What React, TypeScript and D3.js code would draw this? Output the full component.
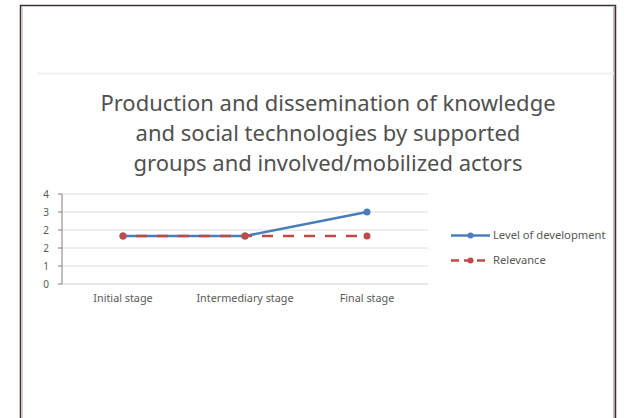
import React from "react";
import * as d3 from "d3";

// Stages along the horizontal axis
const stages = ["Initial stage", "Intermediary stage", "Final stage"];

// Series values per stage
const levelOfDevelopment = [2, 2, 3];
const relevance = [2, 2, 2];

// Value axis: 0 to 3.75 in steps of 0.75, labels rounded to whole numbers
const yMax = 3.75;
const yStep = 0.75;
const yTicks = d3.range(0, yMax + 1e-9, yStep);

const titleLines = [
  "Production and dissemination of knowledge",
  "and social technologies by supported",
  "groups and involved/mobilized actors",
];

const seriesNames = ["Level of development", "Relevance"];
const BLUE = "#4a7ebb";
const RED = "#be4b48";
const FONT = "'Noto Sans', 'Open Sans', sans-serif";

export default function App() {
  const W = 625;
  const H = 418;
  const plot = { left: 62, right: 428, top: 194, bottom: 284 };

  const x = d3
    .scalePoint<string>()
    .domain(stages)
    .range([plot.left, plot.right])
    .padding(0.5);
  const y = d3.scaleLinear().domain([0, yMax]).range([plot.bottom, plot.top]);

  const line = d3
    .line<number>()
    .x((_, i) => x(stages[i]) as number)
    .y((d) => y(d));

  const series = [
    { name: seriesNames[0], values: levelOfDevelopment, color: BLUE, dash: undefined as string | undefined },
    { name: seriesNames[1], values: relevance, color: RED, dash: "11 10" },
  ];

  const legendX = 451;
  const legendY = [235.5, 260.5];

  return (
    <svg
      width={W}
      height={H}
      style={{ position: "absolute", left: 0, top: 0, background: "#fff" }}
    >
      {/* slide frame */}
      <path d={`M20.5,${H + 2} V5.5 H615.5 V${H + 2}`} fill="none" stroke="#3e3030" strokeWidth={1.5} />
      <path d={`M22.2,${H + 2} V7.2`} fill="none" stroke="#c9b9b9" strokeWidth={1} />
      <path d={`M614,${H + 2} V7`} fill="none" stroke="#8a7a7a" strokeWidth={1} />
      {/* faint chart-area edge */}
      <line x1={37} x2={614} y1={73.5} y2={73.5} stroke="#f1f1f1" strokeWidth={2} />

      {/* title */}
      {titleLines.map((t, i) => (
        <text
          key={t}
          x={328}
          y={111 + i * 30}
          textAnchor="middle"
          fontFamily={FONT}
          fontSize={22}
          fill="#505050"
        >
          {t}
        </text>
      ))}

      {/* gridlines */}
      {yTicks.slice(1).map((t) => (
        <line
          key={t}
          x1={plot.left}
          x2={plot.right}
          y1={y(t)}
          y2={y(t)}
          stroke="#dcdcdc"
          strokeWidth={1}
        />
      ))}
      {/* category axis */}
      <line x1={plot.left} x2={plot.right} y1={y(0)} y2={y(0)} stroke="#d0d0d0" strokeWidth={1} />
      {/* value axis */}
      <line x1={plot.left} x2={plot.left} y1={plot.top} y2={plot.bottom} stroke="#7f7f7f" strokeWidth={1} />
      {yTicks.map((t) => (
        <g key={t}>
          <line x1={plot.left - 4} x2={plot.left} y1={y(t)} y2={y(t)} stroke="#7f7f7f" strokeWidth={1} />
          <text
            x={plot.left - 13}
            y={y(t)}
            dy="0.35em"
            textAnchor="end"
            fontFamily={FONT}
            fontSize={10}
            fill="#595959"
          >
            {Math.round(t)}
          </text>
        </g>
      ))}
      {stages.map((s) => (
        <text
          key={s}
          x={x(s)}
          y={302}
          textAnchor="middle"
          fontFamily={FONT}
          fontSize={10.8}
          fill="#595959"
        >
          {s}
        </text>
      ))}

      {/* series lines and markers */}
      {series.map((s) => (
        <g key={s.name}>
          <path
            d={line(s.values) as string}
            fill="none"
            stroke={s.color}
            strokeWidth={2.6}
            strokeDasharray={s.dash}
            strokeDashoffset={s.dash ? 8 : undefined}
          />
          {s.values.map((v, i) => (
            <circle key={i} cx={x(stages[i])} cy={y(v)} r={3.5} fill={s.color} />
          ))}
        </g>
      ))}

      {/* legend */}
      {series.map((s, i) => (
        <g key={s.name}>
          <line
            x1={legendX}
            x2={legendX + 39}
            y1={legendY[i]}
            y2={legendY[i]}
            stroke={s.color}
            strokeWidth={2.4}
            strokeDasharray={s.dash ? "8 5" : undefined}
          />
          <circle cx={legendX + 19.5} cy={legendY[i]} r={3} fill={s.color} />
          <text
            x={legendX + 42}
            y={legendY[i]}
            dy="0.35em"
            fontFamily={FONT}
            fontSize={11.2}
            fill="#595959"
          >
            {s.name}
          </text>
        </g>
      ))}
    </svg>
  );
}
